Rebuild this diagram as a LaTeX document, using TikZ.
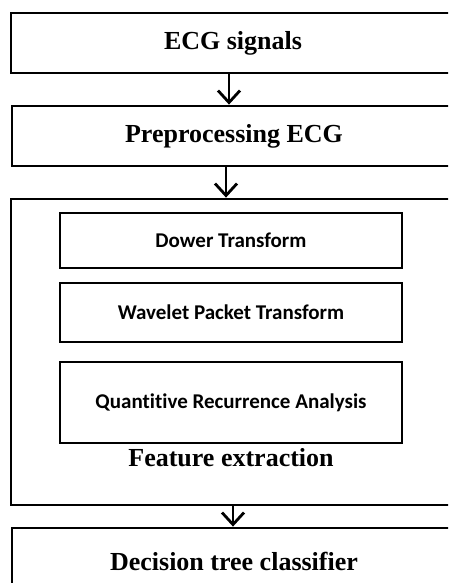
\documentclass[tikz,border=0pt]{standalone}
\usepackage{fontspec}
\setmainfont{Liberation Serif}
\newfontfamily\innerfont[Ligatures=NoCommon]{Carlito}
\usetikzlibrary{arrows.meta}
\tikzset{
  stagebox/.style={draw, line width=2.8pt, rectangle, minimum width=444pt,
    inner sep=0pt, font=\fontsize{26}{30}\selectfont\bfseries},
  methodbox/.style={draw, line width=2.4pt, rectangle, minimum width=342pt,
    inner sep=0pt, font=\innerfont\fontsize{21}{25}\selectfont\bfseries},
  flow/.style={line width=2.8pt, -{Straight Barb[length=12pt,width=22pt]}},
}
\begin{document}
\begin{tikzpicture}[x=1pt,y=-1pt]
  \useasboundingbox (0,0) rectangle (448,583);
  \clip (0,0) rectangle (448,583);
  \fill[white] (0,0) rectangle (448,583);

  % main processing stages
  \node[stagebox, minimum height=60pt] (signals) at (233,43) {ECG signals};
  \node[stagebox, minimum height=60pt] (prep) at (234,136) {Preprocessing ECG};
  \node[stagebox, minimum height=306pt] (feat) at (233,352) {};
  \node[stagebox, minimum height=66pt] (tree) at (234,561) {Decision tree classifier};

  % feature extraction methods
  \node[methodbox, minimum height=55pt] (dower) at (231,240.5) {Dower Transform};
  \node[methodbox, minimum height=59pt] (wpt) at (231,312.5) {Wavelet Packet Transform};
  \node[methodbox, minimum height=81pt] (qra) at (231,402.5) {Quantitive Recurrence Analysis};
  \node[font=\fontsize{26}{30}\selectfont\bfseries] (featlabel) at (231,458) {Feature extraction};

  % connectors
  \draw[flow] ([xshift=-4pt]signals.south) -- ([xshift=-5pt]prep.north);
  \draw[flow] ([xshift=-8pt]prep.south) -- ([xshift=-7pt]feat.north);
  \draw[flow] (feat.south) -- ([xshift=-1pt]tree.north);
\end{tikzpicture}
\end{document}
